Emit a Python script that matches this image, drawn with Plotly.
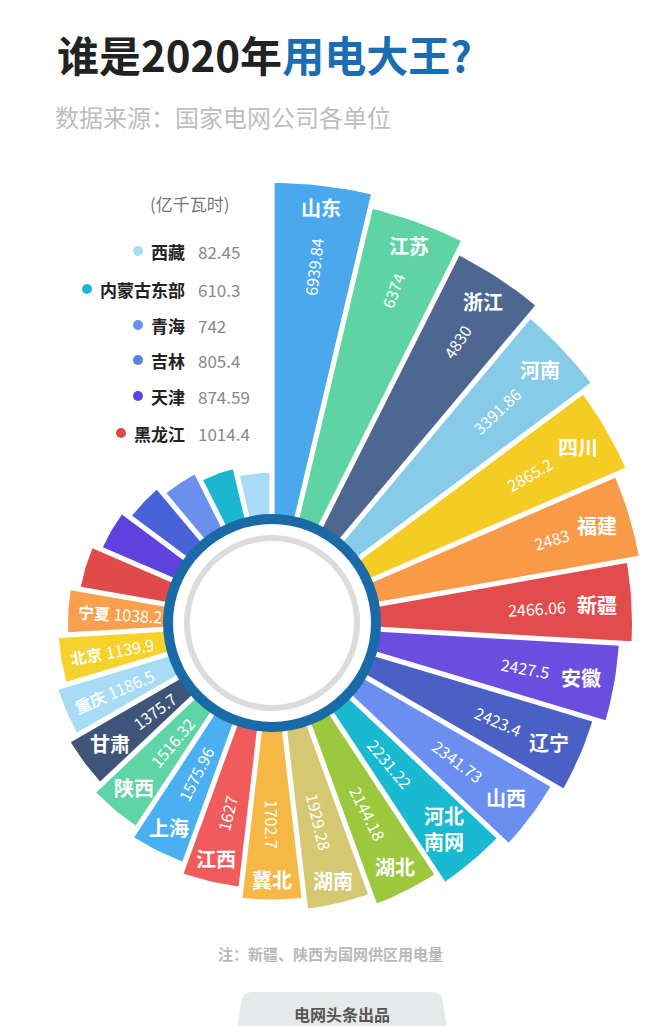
import numpy as np
import plotly.graph_objects as go

# data (亿千瓦时), ordered clockwise from 12 o'clock
provinces = ['山东', '江苏', '浙江', '河南', '四川', '福建', '新疆', '安徽', '辽宁', '山西',
             '河北<br>南网', '湖北', '湖南', '冀北', '江西', '上海', '陕西', '甘肃', '重庆', '北京',
             '宁夏', '黑龙江', '天津', '吉林', '青海', '内蒙古东部', '西藏']
values = [6939.84, 6374, 4830, 3391.86, 2865.2, 2483, 2466.06, 2427.5, 2423.4, 2341.73,
          2231.22, 2144.18, 1929.28, 1702.7, 1627, 1575.96, 1516.32, 1375.7, 1186.5, 1139.9,
          1038.2, 1014.4, 874.59, 805.4, 742, 610.3, 82.45]
value_labels = ['6939.84', '6374', '4830', '3391.86', '2865.2', '2483', '2466.06', '2427.5', '2423.4',
                '2341.73', '2231.22', '2144.18', '1929.28', '1702.7', '1627', '1575.96', '1516.32',
                '1375.7', '1186.5', '1139.9', '1038.2', '1014.4', '874.59', '805.4', '742', '610.3', '82.45']
colors = ['#4aa8ec', '#5ed4a5', '#4e6790', '#87cbe8', '#f5cc24', '#fa9a48', '#e34c4c', '#6a4ee0',
          '#4a60c4', '#6b8ff0', '#19b9d2', '#9cc83e', '#d6c872', '#f6b845', '#f05c5c', '#4bb0f2',
          '#5fd5a7', '#3f5479', '#a8dcf6', '#f6d22c', '#f8a04e', '#e04a4a', '#5e42de', '#4a62d8',
          '#6a90ee', '#1bb7d0', '#a8dcf6']
# legend (small ones)
legend_names = ['西藏', '内蒙古东部', '青海', '吉林', '天津', '黑龙江']
legend_vals = ['82.45', '610.3', '742', '805.4', '874.59', '1014.4']
legend_cols = ['#a8dcf6', '#1bb7d0', '#6a90ee', '#5a80e0', '#5e42de', '#e04a4a']

W, H = 658, 1026
cx, cy = 264, 615
r_in = 95
n = len(values)
step = 360 / n
gap = 2.6

# bar length follows rank of value (infographic scale)
rank = np.argsort(np.argsort(-np.array(values)))
def radius(k):
    return 440 - 14 * k + 0.11 * k ** 2

def pt(r, ang, off=0):
    a = np.radians(ang)
    ux, uy = np.sin(a), -np.cos(a)
    nx, ny = np.cos(a), np.sin(a)
    return cx + r * ux + off * nx, cy + r * uy + off * ny

fig = go.Figure()
annots = []
for i, (name, v) in enumerate(zip(provinces, values)):
    r_out = radius(rank[i])
    a0, a1 = i * step, (i + 1) * step
    xs, ys = [], []
    p = pt(r_in, a0, gap); xs.append(p[0]); ys.append(p[1])
    for a in np.linspace(a0, a1, 12):
        p = pt(r_out, a, gap if a == a0 else (-gap if a == a1 else 0)); xs.append(p[0]); ys.append(p[1])
    p = pt(r_in, a1, -gap); xs.append(p[0]); ys.append(p[1])
    fig.add_trace(go.Scatter(x=xs, y=ys, fill='toself', fillcolor=colors[i], mode='lines',
                             line=dict(width=0), hoverinfo='text', text=f'{name} {v}'))
    mid = (a0 + a1) / 2
    ta = mid - 90 if mid <= 180 else mid - 270
    if i <= 17:
        two = '<br>' in name
        nr = r_out - 20 - 14 * abs(np.sin(np.radians(mid))) - (14 if two else 0)
        x, y = pt(nr, mid)
        annots.append(dict(x=x, y=y, text=f'<b>{name}</b>', showarrow=False,
                           font=dict(size=20, color='white')))
        vr = nr - 30 - 4.3 * len(value_labels[i]) - (24 if two else 0)
        x, y = pt(vr, mid)
        annots.append(dict(x=x, y=y, text=value_labels[i], textangle=ta, showarrow=False,
                           font=dict(size=16, color='white')))
    elif i <= 20:
        x, y = pt(r_out - 52, mid)
        annots.append(dict(x=x, y=y, text=f'<b>{name}</b> {value_labels[i]}', textangle=ta,
                           showarrow=False, font=dict(size=16, color='white')))

shapes = [
    dict(type='circle', x0=cx - 104, x1=cx + 104, y0=cy - 104, y1=cy + 104,
         fillcolor='white', line=dict(color='#1a6aa8', width=10)),
    dict(type='circle', x0=cx - 85, x1=cx + 85, y0=cy - 85, y1=cy + 85,
         fillcolor='white', line=dict(color='#dcdcdc', width=6)),
    dict(type='path', path='M 228 1026 L 234 990 Q 236 984 244 984 L 424 984 Q 432 984 434 990 L 440 1026 Z',
         fillcolor='#e6e9ea', line=dict(width=0)),
]

font = 'Noto Sans CJK SC'
annots += [
    dict(x=256, y=45, text='<b><span style="color:#222">谁是2020年</span><span style="color:#1a6db3">用电大王?</span></b>',
         showarrow=False, font=dict(size=42, family=font)),
    dict(x=45, y=108, xanchor='left', text='数据来源：国家电网公司各单位', showarrow=False,
         font=dict(size=24, color='#bdbdbd', family=font)),
    dict(x=182, y=195, text='(亿千瓦时)', showarrow=False, font=dict(size=17, color='#777', family=font)),
    dict(x=322, y=945, text='<b>注：新疆、陕西为国网供区用电量</b>', showarrow=False,
         font=dict(size=15, color='#b9b9b9', family=font)),
    dict(x=334, y=1006, text='<b>电网头条出品</b>', showarrow=False, font=dict(size=16, color='#555', family=font)),
]
leg_y = [243, 281, 317, 352, 388, 425]
for nm, vl, c, y in zip(legend_names, legend_vals, legend_cols, leg_y):
    annots.append(dict(x=179, y=y, xanchor='right', text=f'<b>{nm}</b>', showarrow=False,
                       font=dict(size=17, color='#222', family=font)))
    annots.append(dict(x=188, y=y, xanchor='left', text=vl, showarrow=False,
                       font=dict(size=17, color='#888', family=font)))
    shapes.append(dict(type='circle', x0=179 - 17 * (len(nm)) - 20, x1=179 - 17 * len(nm) - 10,
                       y0=y - 5, y1=y + 5, fillcolor=c, line=dict(width=0)))

fig.update_layout(width=W, height=H, margin=dict(l=0, r=0, t=0, b=0),
                  paper_bgcolor='white', plot_bgcolor='white', showlegend=False,
                  font=dict(family=font),
                  xaxis=dict(range=[0, W], visible=False, fixedrange=True),
                  yaxis=dict(range=[H, 0], visible=False, fixedrange=True),
                  shapes=shapes, annotations=annots)
fig.write_html('out.html')
